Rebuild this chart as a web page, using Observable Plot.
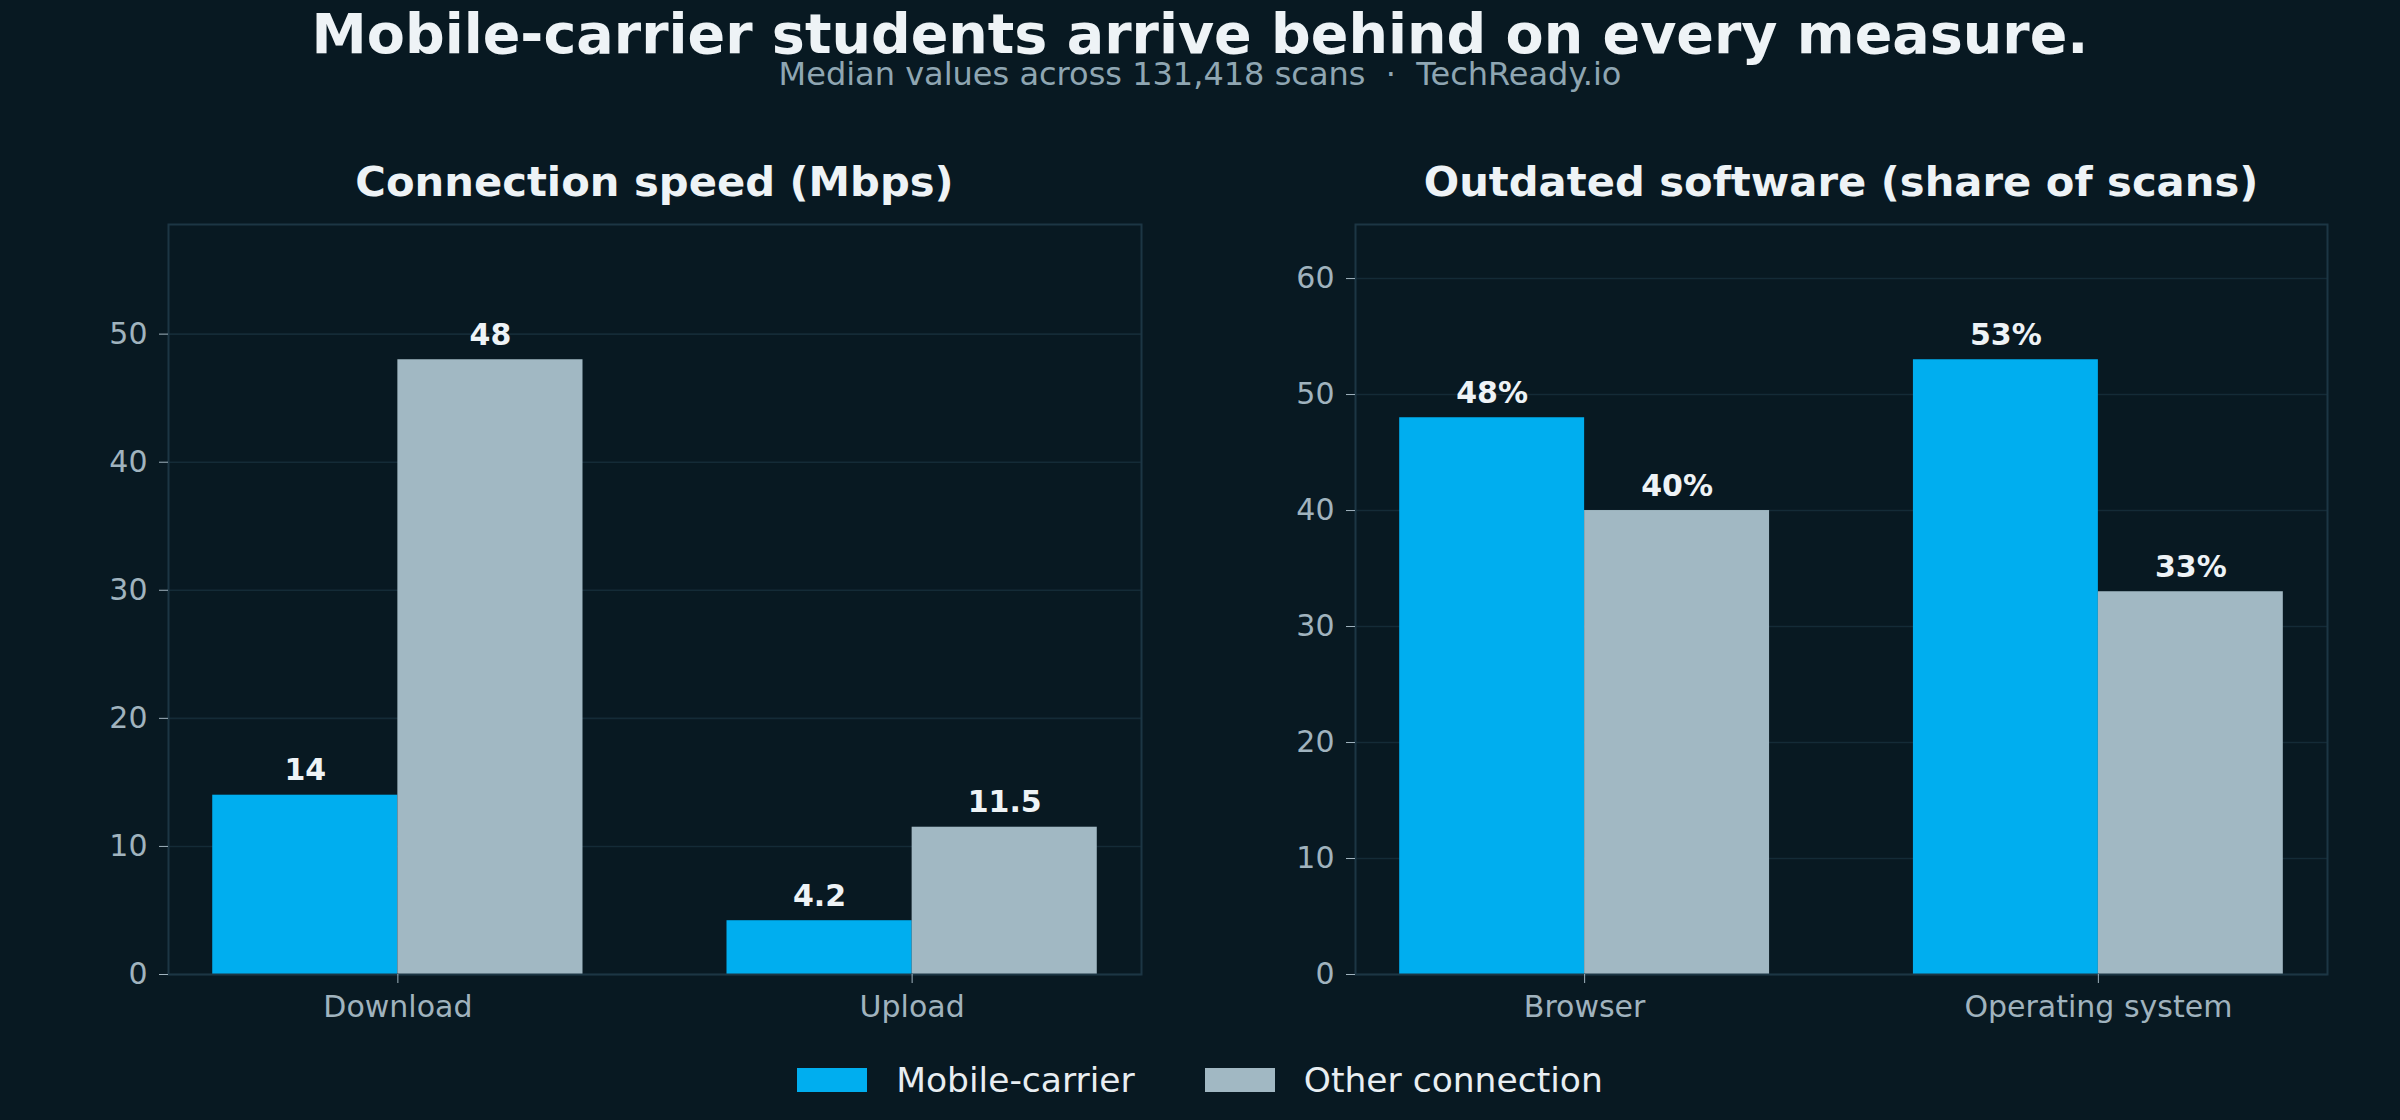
<!DOCTYPE html>
<html>
<head>
<meta charset="utf-8">
<script src="https://cdn.jsdelivr.net/npm/d3@7"></script>
<script src="https://cdn.jsdelivr.net/npm/@observablehq/plot@0.6"></script>
<style>
  body { margin: 0; background: #081922; font-family: "DejaVu Sans", sans-serif; }
  #page { position: relative; width: 2400px; height: 1120px; overflow: hidden; background: #081922; }
  .txt { position: absolute; white-space: nowrap; line-height: 1; text-align: center; }
  #title { left: 0; width: 2400px; top: 9px; font-size: 55.5px; line-height: 0.9; font-weight: bold; color: #eef3f6; }
  #subtitle { left: 0; width: 2400px; top: 59.5px; font-size: 32px; line-height: 0.9; color: #8fa6b2; }
  .panel-title { font-size: 41.7px; font-weight: bold; color: #eef3f6; top: 161px; width: 1200px; }
  .panel { position: absolute; top: 0; }
  #legend { position: absolute; left: 0; width: 2400px; top: 1063px; display: flex; justify-content: center; align-items: center; }
  .swatch { width: 70px; height: 24px; margin-right: 29px; }
  .lab { font-size: 34.5px; color: #e8eef2; line-height: 1; white-space: nowrap; }
  .gap { width: 70px; }
</style>
</head>
<body>
<div id="page">
  <div id="title" class="txt">Mobile-carrier students arrive behind on every measure.</div>
  <div id="subtitle" class="txt">Median values across 131,418 scans&nbsp; ·&nbsp; TechReady.io</div>
  <div id="t-left" class="txt panel-title"></div>
  <div id="t-right" class="txt panel-title"></div>
  <div id="p-left" class="panel" style="left:0"></div>
  <div id="p-right" class="panel" style="left:1200px"></div>
  <div id="legend"></div>
</div>
<script>
// Series and colours
const seriesNames = ["Mobile-carrier", "Other connection"];
const seriesColors = ["#00AEEF", "#A1B8C3"];

// Connection speed, median Mbps
const speedTitle = "Connection speed (Mbps)";
const speedCategories = ["Download", "Upload"];
const speedMobile = [14, 4.2];
const speedOther = [48, 11.5];
const speedTicks = [0, 10, 20, 30, 40, 50];

// Outdated software, share of scans (%)
const softwareTitle = "Outdated software (share of scans)";
const softwareCategories = ["Browser", "Operating system"];
const softwareMobile = [48, 53];
const softwareOther = [40, 33];
const softwareTicks = [0, 10, 20, 30, 40, 50, 60];

const BAR_W = 0.36;          // width of each bar in category units
const HEADROOM = 1.22;       // y max = largest value × headroom

function rows(categories, mobile, other) {
  return categories.flatMap((c, i) => [
    {category: c, i, series: seriesNames[0], value: mobile[i], x1: i - BAR_W, x2: i},
    {category: c, i, series: seriesNames[1], value: other[i], x1: i, x2: i + BAR_W}
  ]);
}

function panel({categories, mobile, other, ticks, fmt, marginLeft, marginRight}) {
  const data = rows(categories, mobile, other);
  const ymax = d3.max(data, d => d.value) * HEADROOM;
  const n = categories.length;
  const pad = (n - 1 + 2 * BAR_W) * 0.05;
  const tickColor = "#a0b3be";
  return Plot.plot({
    width: 1200,
    height: 1040,
    marginTop: 224,
    marginBottom: 66,
    marginLeft,
    marginRight,
    style: {background: "transparent", fontFamily: "DejaVu Sans, sans-serif", overflow: "visible"},
    x: {domain: [-BAR_W - pad, n - 1 + BAR_W + pad]},
    y: {domain: [0, ymax]},
    color: {domain: seriesNames, range: seriesColors},
    marks: [
      Plot.gridY(ticks, {stroke: "#142b37", strokeOpacity: 1, strokeWidth: 1.6}),
      Plot.rect(data, {x1: "x1", x2: "x2", y1: 0, y2: "value", fill: "series"}),
      Plot.frame({stroke: "#1c3644", strokeWidth: 2}),
      Plot.axisY(ticks, {tickSize: 9, tickPadding: 12, fontSize: 30, color: tickColor, label: null}),
      Plot.axisX(d3.range(n), {tickSize: 9, tickPadding: 12, fontSize: 30, color: tickColor, label: null,
        tickFormat: i => categories[i]}),
      Plot.text(data, {
        x: d => (d.x1 + d.x2) / 2, y: "value", text: d => fmt(d.value),
        dy: -15, lineAnchor: "bottom", fontSize: 30, fontWeight: "bold", fill: "#eef3f6"
      })
    ]
  });
}

document.getElementById("t-left").textContent = speedTitle;
document.getElementById("t-right").textContent = softwareTitle;

const left = panel({categories: speedCategories, mobile: speedMobile, other: speedOther,
  ticks: speedTicks, fmt: v => String(v), marginLeft: 168, marginRight: 59});
const right = panel({categories: softwareCategories, mobile: softwareMobile, other: softwareOther,
  ticks: softwareTicks, fmt: v => v + "%", marginLeft: 155, marginRight: 73});
document.getElementById("p-left").appendChild(left);
document.getElementById("p-right").appendChild(right);

// centre each panel title over its plot area
document.getElementById("t-left").style.left = ((168 + 1200 - 59) / 2 - 600) + "px";
document.getElementById("t-right").style.left = (1200 + (155 + 1200 - 73) / 2 - 600) + "px";

// Legend
const legend = document.getElementById("legend");
seriesNames.forEach((name, k) => {
  if (k > 0) { const g = document.createElement("div"); g.className = "gap"; legend.appendChild(g); }
  const sw = document.createElement("div");
  sw.className = "swatch";
  sw.style.background = seriesColors[k];
  const lab = document.createElement("div");
  lab.className = "lab";
  lab.textContent = name;
  legend.appendChild(sw);
  legend.appendChild(lab);
});
</script>
</body>
</html>
